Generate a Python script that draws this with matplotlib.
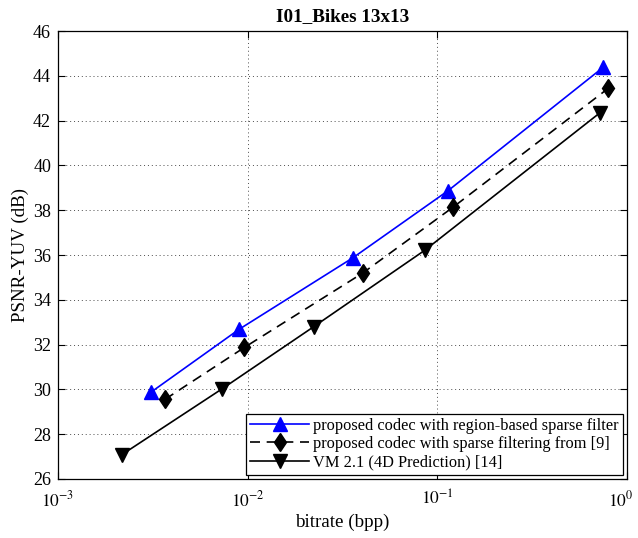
import math

import matplotlib

matplotlib.use("Agg")
import matplotlib.pyplot as plt
from matplotlib.transforms import ScaledTranslation
from matplotlib.ticker import FixedLocator, FuncFormatter, NullLocator

plt.rcParams["font.family"] = ["Liberation Serif", "DejaVu Serif"]
plt.rcParams["mathtext.fontset"] = "stix"

# rate-distortion points
region_rate = [0.0031, 0.0090, 0.0359, 0.114, 0.746]
region_psnr = [29.88, 32.68, 35.88, 38.88, 44.38]

sparse_rate = [0.00366, 0.0096, 0.0403, 0.121, 0.793]
sparse_psnr = [29.55, 31.87, 35.19, 38.14, 43.44]

vm_rate = [0.00217, 0.00735, 0.0223, 0.086, 0.72]
vm_psnr = [27.08, 30.03, 32.8, 36.22, 42.36]

labels = [
    "proposed codec with region-based sparse filter",
    "proposed codec with sparse filtering from [9]",
    "VM 2.1 (4D Prediction) [14]",
]

fig = plt.figure(figsize=(6.38, 5.38), dpi=100)
ax = fig.add_axes([0.091, 0.110, 0.892, 0.832])

ax.plot(region_rate, region_psnr, color="#0000ff", lw=1.2, marker="^",
        markersize=9.5, label=labels[0])
ax.plot(sparse_rate, sparse_psnr, color="black", lw=1.2, ls=(0, (6, 4)),
        marker="d", markersize=9.5, label=labels[1])
ax.plot(vm_rate, vm_psnr, color="black", lw=1.2, marker="v",
        markersize=9.5, label=labels[2])

ax.set_xscale("log")
ax.set_xlim(1e-3, 1)
ax.set_ylim(26, 46)
ax.xaxis.set_major_locator(FixedLocator([1e-3, 1e-2, 1e-1, 1]))
ax.xaxis.set_minor_locator(NullLocator())
ax.xaxis.set_major_formatter(FuncFormatter(lambda v, p: r"$10^{%d}$" % round(math.log10(v))))
ax.set_yticks(range(26, 47, 2))

ax.grid(True, ls=(0, (1, 3)), color="black", lw=0.7, alpha=0.7)
ax.tick_params(direction="in", top=True, right=True, labelsize=13, length=5)
ax.tick_params(axis="y", pad=5)
ax.tick_params(axis="x", pad=8, labelsize=12.5)
for s in ax.spines.values():
    s.set_linewidth(0.9)

ax.set_title("I01_Bikes 13x13", fontsize=13.8, fontweight="bold", pad=7)
ax.set_xlabel("bitrate (bpp)", fontsize=13.7, labelpad=3)
ax.set_ylabel("PSNR-YUV (dB)", fontsize=13.7, labelpad=3)

leg = ax.legend(loc="lower right", fontsize=11.8, frameon=True, fancybox=False,
                edgecolor="black", framealpha=1, borderpad=0.25, labelspacing=0.15,
                handlelength=3.6, handletextpad=0.25, borderaxespad=0.25)
leg.get_frame().set_linewidth(0.9)

# nudge the 10^0 label a few pixels left so it stays on the canvas
fig.canvas.draw()
last = ax.xaxis.get_major_ticks()[-1].label1
last.set_transform(last.get_transform() + ScaledTranslation(-5 / 72, 0, fig.dpi_scale_trans))

fig.savefig("out.png", dpi=100)
